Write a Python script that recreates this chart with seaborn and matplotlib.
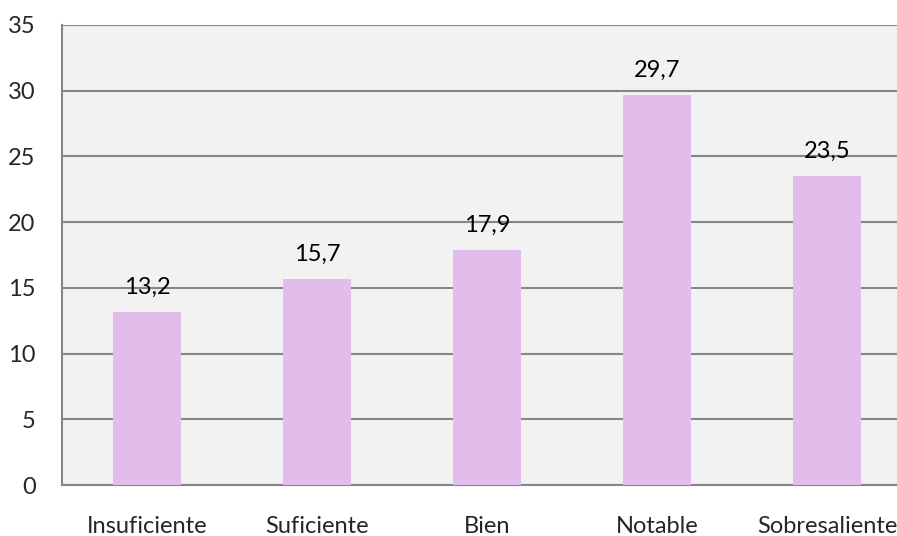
import matplotlib.pyplot as plt
import seaborn as sns
import pandas as pd

categorias = ['Insuficiente', 'Suficiente', 'Bien', 'Notable', 'Sobresaliente']
valores = [13.2, 15.7, 17.9, 29.7, 23.5]
etiquetas = ['13,2', '15,7', '17,9', '29,7', '23,5']
y_ticks = [0, 5, 10, 15, 20, 25, 30, 35]

df = pd.DataFrame({'categoria': categorias, 'valor': valores})

sns.set_style('white')
plt.rcParams['font.family'] = ['Lato', 'DejaVu Sans']

fig = plt.figure(figsize=(8.97, 5.36), dpi=100)
ax = fig.add_axes([62 / 897, 51 / 536, 850 / 897, 460 / 536])
ax.set_facecolor('#f2f2f2')

sns.barplot(data=df, x='categoria', y='valor', color='#e2bdeb', width=0.4,
            saturation=1, ax=ax, zorder=3)
for patch in ax.patches:
    patch.set_edgecolor('none')

ax.bar_label(ax.containers[0], labels=etiquetas, padding=10, fontsize=17, color='black')

ax.set_ylim(0, 35)
ax.set_xlim(-0.5, 4.5)
ax.set_yticks(y_ticks)
ax.yaxis.grid(True, color='#868686', linewidth=1.5, zorder=1)
ax.set_axisbelow(True)
ax.tick_params(axis='y', length=0, pad=19, labelsize=17)
ax.tick_params(axis='x', length=0, pad=22, labelsize=17)
ax.set_xlabel('')
ax.set_ylabel('')

for side in ['top', 'right']:
    ax.spines[side].set_visible(False)
for side in ['left', 'bottom']:
    ax.spines[side].set_color('#868686')
    ax.spines[side].set_linewidth(1.5)

fig.savefig('out.png', dpi=100)
